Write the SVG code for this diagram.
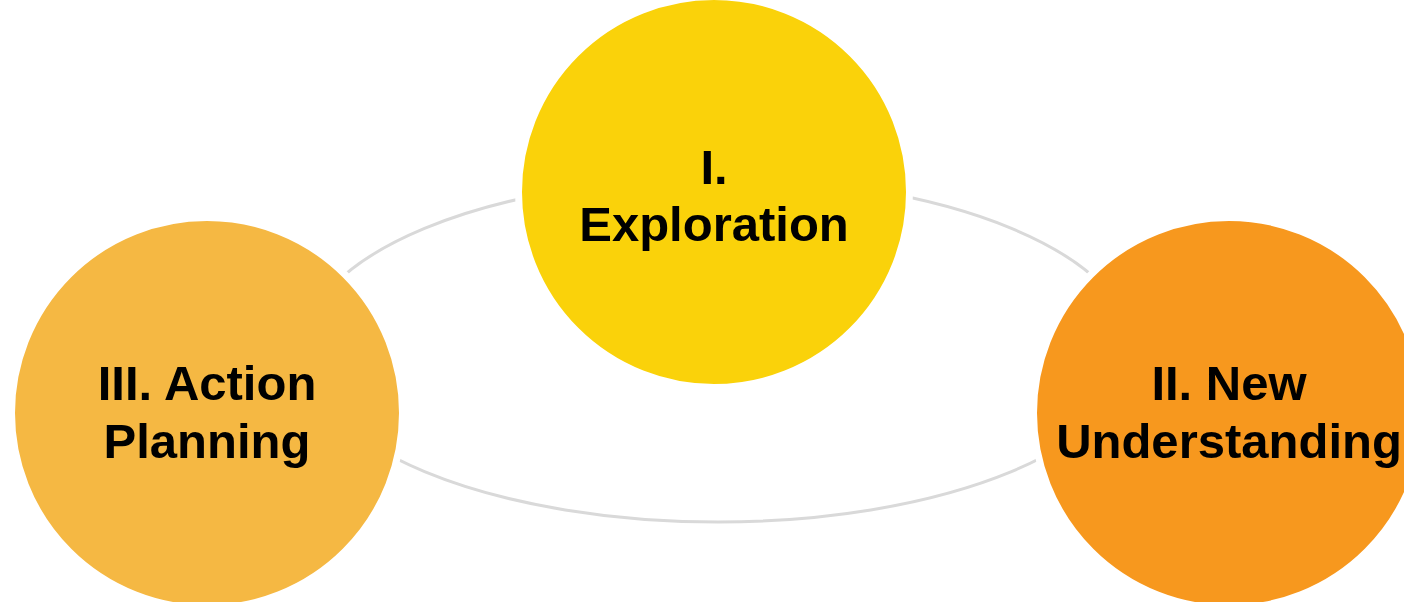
<svg xmlns="http://www.w3.org/2000/svg" width="1404" height="602" viewBox="0 0 1404 602">
<style>
.node{stroke:#FFFFFF;stroke-width:7}
.lbl{font-family:"Liberation Sans",Arial,sans-serif;font-weight:bold;font-size:49px;fill:#000000;text-anchor:middle}
.ring{fill:none;stroke:#D9D9D9;stroke-width:3}
</style>
<rect width="1404" height="602" fill="#FFFFFF"/>
<g id="connectors">
<ellipse class="ring" cx="718" cy="350" rx="415" ry="172"/>
</g>
<g id="node-exploration">
<circle class="node" cx="714" cy="192" r="195.5" fill="#FAD20A"/>
<text class="lbl" x="714" y="184">I.</text>
<text class="lbl" x="714" y="241">Exploration</text>
</g>
<g id="node-action-planning">
<circle class="node" cx="207" cy="413" r="195.5" fill="#F5B843"/>
<text class="lbl" x="207" y="400">III. Action</text>
<text class="lbl" x="207" y="458">Planning</text>
</g>
<g id="node-new-understanding">
<circle class="node" cx="1229" cy="413" r="195.5" fill="#F7981E"/>
<text class="lbl" x="1229" y="400">II. New</text>
<text class="lbl" x="1229" y="458">Understanding</text>
</g>
</svg>
